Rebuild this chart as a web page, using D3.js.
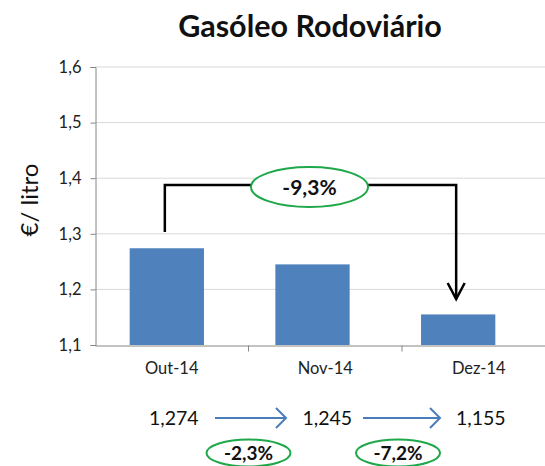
<!DOCTYPE html>
<html>
<head>
<meta charset="utf-8">
<script src="https://cdn.jsdelivr.net/npm/d3@7"></script>
<style>
  body { margin: 0; background: #fff; }
  svg { display: block; font-family: Lato, "Open Sans", sans-serif; }
</style>
</head>
<body>
<svg id="chart" width="545" height="466"></svg>
<script>
const months = ["Out-14", "Nov-14", "Dez-14"]
const prices = [1.274, 1.245, 1.155]
const priceLabels = ["1,274", "1,245", "1,155"]
const stepChanges = ["-2,3%", "-7,2%"]
const totalChange = "-9,3%"
const yTicks = [1.1, 1.2, 1.3, 1.4, 1.5, 1.6]

const svg = d3.select("#chart")
const green = "#1ea84a", blue = "#4f81bd", arrowBlue = "#4a7ebb"

// scales
var y = d3.scaleLinear().domain([1.1, 1.6]).range([345, 67])
var xAxisScale = d3.scaleBand().domain(months).range([95, 555.5])
var xBar = d3.scaleBand().domain(months).range([94, 531])
  .paddingInner(0.49).paddingOuter(0.245)

// gridlines
svg.append("g").selectAll("line")
  .data(yTicks.slice(1))
  .join("line")
  .attr("x1", 95).attr("x2", 545)
  .attr("y1", d => y(d)).attr("y2", d => y(d))
  .attr("stroke", "#d9d9d9").attr("stroke-width", 1)

// y axis
var yAxis = svg.append("g")
  .attr("transform", "translate(95.5,0)")
  .call(d3.axisLeft(y).tickValues(yTicks).tickSize(5)
    .tickFormat(d => d3.format(".1f")(d).replace(".", ",")))
yAxis.select(".domain").attr("stroke", "#868686")
yAxis.selectAll(".tick line").attr("stroke", "#868686")
yAxis.selectAll(".tick text").attr("font-size", 16.5).attr("fill", "#222")
  .attr("x", -14).attr("font-family", "Lato, sans-serif")

// x axis
var xAxis = svg.append("g")
  .attr("transform", "translate(0,345.5)")
  .call(d3.axisBottom(xAxisScale).tickSize(0).tickPadding(17))
xAxis.select(".domain").attr("stroke", "#868686")
xAxis.selectAll(".tick text").attr("font-size", 16.5).attr("fill", "#222")
  .attr("font-family", "Lato, sans-serif")
xAxis.selectAll(".sep")
  .data(months.slice(1))
  .join("line")
  .attr("class", "sep")
  .attr("x1", d => xAxisScale(d)).attr("x2", d => xAxisScale(d))
  .attr("y1", 0).attr("y2", 6)
  .attr("stroke", "#868686")

// bars
svg.append("g").selectAll("rect")
  .data(prices)
  .join("rect")
  .attr("x", (d, i) => xBar(months[i]))
  .attr("width", xBar.bandwidth())
  .attr("y", d => y(d))
  .attr("height", d => y(1.1) - y(d))
  .attr("fill", blue)

// title
svg.append("text")
  .attr("x", 310).attr("y", 37)
  .attr("text-anchor", "middle")
  .attr("font-size", 30.5).attr("font-weight", "bold")
  .attr("fill", "#111")
  .text("Gasóleo Rodoviário")

// y label
svg.append("text")
  .attr("transform", "translate(38,200) rotate(-90)")
  .attr("text-anchor", "middle")
  .attr("font-size", 24).attr("fill", "#111")
  .text("€/ litro")

// total change bracket
var bx1 = xBar(months[0]) + xBar.bandwidth() / 2 - 2
var bx2 = xBar(months[2]) + xBar.bandwidth() / 2 - 2
var bTop = 185
svg.append("path")
  .attr("d", `M${bx1},${232} V${bTop} H${bx2} V${299}`)
  .attr("fill", "none").attr("stroke", "#000").attr("stroke-width", 2.5)
svg.append("path")
  .attr("d", `M${bx2 - 8.5},${283} L${bx2},${299} L${bx2 + 8.5},${283}`)
  .attr("fill", "none").attr("stroke", "#000").attr("stroke-width", 2.5)
svg.append("ellipse")
  .attr("cx", 309.5).attr("cy", 187).attr("rx", 58.5).attr("ry", 20)
  .attr("fill", "#fff").attr("stroke", green).attr("stroke-width", 2)
svg.append("text")
  .attr("x", 309.5).attr("y", 195)
  .attr("text-anchor", "middle")
  .attr("font-size", 21).attr("font-weight", "bold").attr("fill", "#111")
  .text(totalChange)

// values row
var valRow = 425
svg.append("g").selectAll("text")
  .data(priceLabels)
  .join("text")
  .attr("x", (d, i) => xAxisScale(months[i]) + xAxisScale.bandwidth() / 2 + 2)
  .attr("y", valRow)
  .attr("text-anchor", "middle")
  .attr("font-size", 19.5).attr("fill", "#111")
  .text(d => d)

// blue arrows between values
var arrows = [[215, 286], [363, 440]]
arrows.forEach(function(a) {
  svg.append("line")
    .attr("x1", a[0]).attr("x2", a[1] - 1)
    .attr("y1", 418).attr("y2", 418)
    .attr("stroke", arrowBlue).attr("stroke-width", 2)
  svg.append("path")
    .attr("d", `M${a[1] - 10},${408} L${a[1]},${418} L${a[1] - 10},${428}`)
    .attr("fill", "none").attr("stroke", arrowBlue).attr("stroke-width", 2)
})

// step change ellipses
var stepX = [248.5, 398]
stepChanges.forEach(function(c, i) {
  svg.append("ellipse")
    .attr("cx", stepX[i]).attr("cy", 453).attr("rx", 42).attr("ry", 13.5)
    .attr("fill", "#fff").attr("stroke", green).attr("stroke-width", 2)
  svg.append("text")
    .attr("x", stepX[i]).attr("y", 460)
    .attr("text-anchor", "middle")
    .attr("font-size", 19).attr("font-weight", "bold").attr("fill", "#111")
    .text(c)
})
</script>
</body>
</html>
